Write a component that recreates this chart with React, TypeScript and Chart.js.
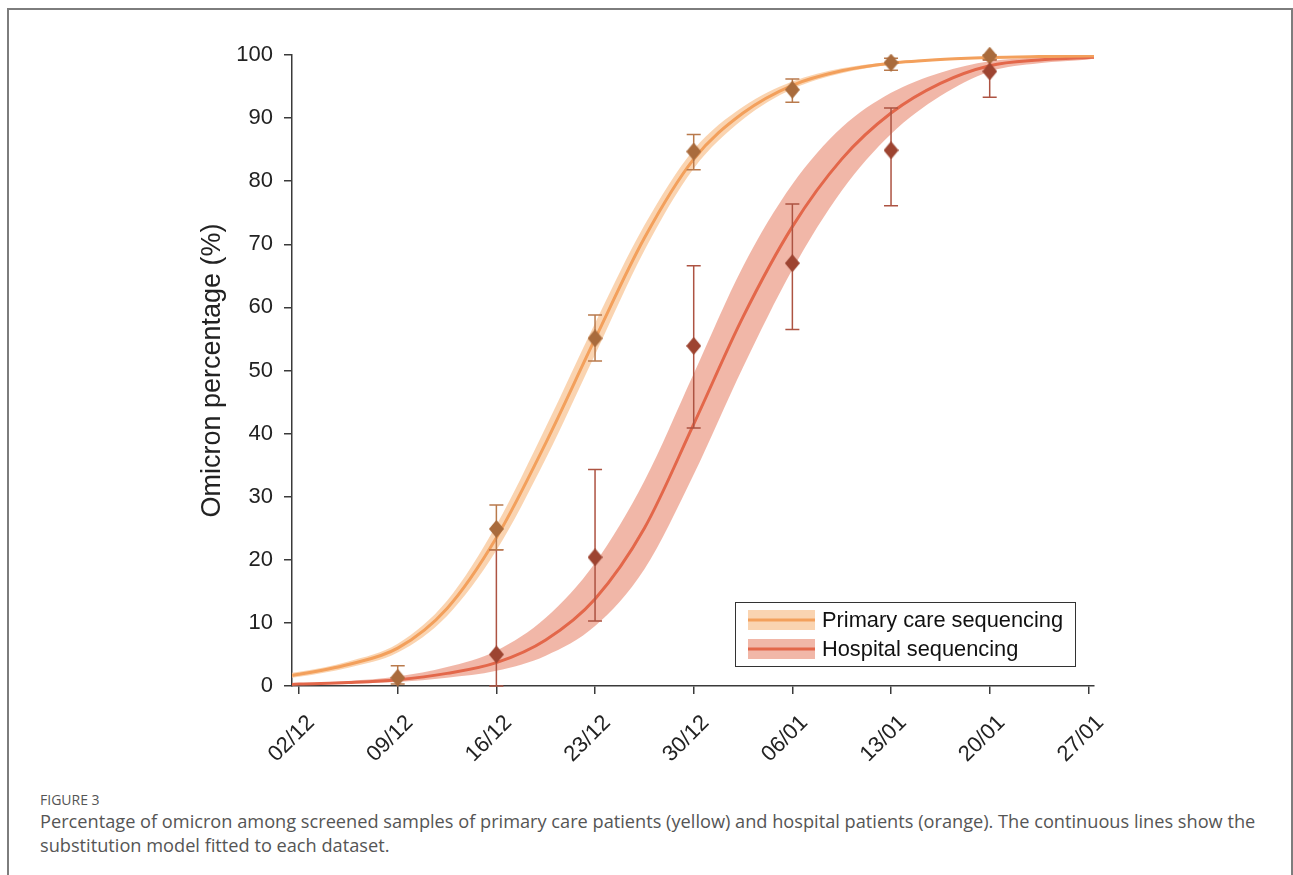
import React, { useEffect, useRef } from 'react';
import { Chart, registerables } from 'chart.js';

Chart.register(...registerables);

// ---- data ----
const tickDays = [0, 7, 14, 21, 28, 35, 42, 49, 56];
const tickLabels = ['02/12', '09/12', '16/12', '23/12', '30/12', '06/01', '13/01', '20/01', '27/01'];

const primaryDays = [7, 14, 21, 28, 35, 42, 49];
const primaryValues = [1.3, 24.9, 55.1, 84.7, 94.5, 98.8, 99.9];
const primaryLow = [0.3, 21.6, 51.5, 81.8, 92.5, 97.6, 99.3];
const primaryHigh = [3.2, 28.7, 58.8, 87.4, 96.2, 99.5, 100.0];

const hospitalDays = [14, 21, 28, 35, 42, 49];
const hospitalValues = [5.0, 20.4, 53.9, 67.0, 84.9, 97.4];
const hospitalLow = [0.0, 10.3, 40.9, 56.5, 76.1, 93.3];
const hospitalHigh = [21.6, 34.3, 66.6, 76.4, 91.6, 99.2];

const curveDays = [-0.5, 0, 3.5, 7, 10.5, 14, 17.5, 21, 24.5, 28, 31.5, 35, 38.5, 42, 45.5, 49, 52.5, 56, 56.4];
const primaryFit = [1.7, 1.85, 3.4, 6.0, 12.3, 23.5, 38.5, 55.0, 71.0, 83.5, 90.8, 95.2, 97.5, 98.7, 99.3, 99.6, 99.75, 99.85, 99.85];
const primaryFitUpper = [2.1, 2.25, 3.9, 6.7, 13.5, 25.5, 41.0, 57.5, 73.0, 85.0, 91.8, 95.8, 97.9, 98.9, 99.45, 99.7, 99.82, 99.9, 99.9];
const primaryFitLower = [1.3, 1.45, 2.9, 5.3, 11.1, 21.5, 36.0, 52.5, 69.0, 82.0, 89.8, 94.6, 97.1, 98.5, 99.15, 99.5, 99.68, 99.8, 99.8];
const hospitalFit = [0.25, 0.3, 0.55, 1.0, 2.0, 3.7, 7.3, 13.8, 25.0, 41.5, 58.5, 72.8, 83.5, 90.8, 95.5, 98.3, 99.2, 99.6, 99.65];
const hospitalFitUpper = [0.35, 0.42, 0.8, 1.5, 3.0, 5.6, 10.8, 19.5, 32.5, 49.5, 66.5, 79.5, 88.5, 94.0, 97.2, 99.0, 99.6, 99.8, 99.82];
const hospitalFitLower = [0.17, 0.2, 0.38, 0.65, 1.3, 2.4, 4.8, 9.5, 18.5, 33.5, 50.5, 66.0, 78.5, 87.5, 93.5, 97.4, 98.7, 99.3, 99.4];

const legendLabels = ['Primary care sequencing', 'Hospital sequencing'];

// ---- styles ----
const FONT = "'Liberation Sans', Arial, sans-serif";
const AXIS = '#3a3a3a';
const PRIMARY_LINE = '#F3A05C';
const PRIMARY_BAND = 'rgba(249, 205, 163, 0.85)';
const PRIMARY_MARK = '#A96B3C';
const PRIMARY_ERR = '#B97A4C';
const HOSP_LINE = '#E3674A';
const HOSP_BAND = 'rgba(238, 165, 146, 0.8)';
const HOSP_MARK = '#9D4431';
const HOSP_ERR = '#AD5342';

function makeDiamond(color: string, w: number, h: number) {
  const c = document.createElement('canvas');
  c.width = w;
  c.height = h;
  const g = c.getContext('2d')!;
  g.fillStyle = color;
  g.beginPath();
  g.moveTo(w / 2, 0);
  g.lineTo(w, h / 2);
  g.lineTo(w / 2, h);
  g.lineTo(0, h / 2);
  g.closePath();
  g.fill();
  return c;
}

const pts = (xs: number[], ys: number[]) => xs.map((x, i) => ({ x, y: ys[i] }));

const errorBarPlugin = {
  id: 'errorBars',
  beforeDatasetDraw(chart: any, args: any) {
    const ds = chart.data.datasets[args.index];
    if (!ds.drawAllErrorBars) return;
    const xs = chart.scales.x;
    const ys = chart.scales.y;
    const ctx = chart.ctx;
    ctx.save();
    chart.data.datasets.forEach((d: any) => {
      if (!d.errLow) return;
      ctx.strokeStyle = d.errColor;
      ctx.lineWidth = 1.5;
      d.data.forEach((p: any, i: number) => {
        const x = xs.getPixelForValue(p.x);
        const y1 = ys.getPixelForValue(d.errLow[i]);
        const y2 = ys.getPixelForValue(d.errHigh[i]);
        ctx.beginPath();
        ctx.moveTo(x, y1);
        ctx.lineTo(x, y2);
        ctx.moveTo(x - 7, y1);
        ctx.lineTo(x + 7, y1);
        ctx.moveTo(x - 7, y2);
        ctx.lineTo(x + 7, y2);
        ctx.stroke();
      });
    });
    ctx.restore();
  },
};

const legendPlugin = {
  id: 'bandLegend',
  afterDraw(chart: any) {
    const { ctx, chartArea } = chart;
    const w = 340;
    const h = 64;
    const right = chartArea.right - 19;
    const bottom = chartArea.bottom - 20;
    const left = right - w;
    const top = bottom - h;
    ctx.save();
    ctx.fillStyle = '#ffffff';
    ctx.fillRect(left, top, w, h);
    ctx.strokeStyle = '#333';
    ctx.lineWidth = 1;
    ctx.strokeRect(left + 0.5, top + 0.5, w, h);
    const items = [
      { band: PRIMARY_BAND, line: PRIMARY_LINE },
      { band: HOSP_BAND, line: HOSP_LINE },
    ];
    items.forEach((it, i) => {
      const cy = top + 18 + i * 29;
      ctx.fillStyle = it.band;
      ctx.fillRect(left + 13, cy - 10, 67, 20);
      ctx.strokeStyle = it.line;
      ctx.lineWidth = 3;
      ctx.beginPath();
      ctx.moveTo(left + 13, cy);
      ctx.lineTo(left + 80, cy);
      ctx.stroke();
      ctx.fillStyle = '#111';
      ctx.font = `21.8px ${FONT}`;
      ctx.textAlign = 'left';
      ctx.textBaseline = 'middle';
      ctx.fillText(legendLabels[i], left + 87, cy + 1);
    });
    ctx.restore();
  },
};

export default function App() {
  const ref = useRef<HTMLCanvasElement | null>(null);

  useEffect(() => {
    if (!ref.current) return;
    const primaryDiamond = makeDiamond(PRIMARY_MARK, 15, 18);
    const hospDiamond = makeDiamond(HOSP_MARK, 15, 18);

    const lineCommon = {
      pointRadius: 0,
      cubicInterpolationMode: 'monotone',
      borderCapStyle: 'butt',
    };

    const chart = new Chart(ref.current, {
      type: 'line',
      data: {
        datasets: [
          {
            label: 'Hospital data',
            data: pts(hospitalDays, hospitalValues),
            showLine: false,
            pointStyle: hospDiamond,
            pointRadius: 9,
            order: 0,
            clip: false,
            errLow: hospitalLow,
            errHigh: hospitalHigh,
            errColor: HOSP_ERR,
          } as any,
          {
            label: 'Primary data',
            data: pts(primaryDays, primaryValues),
            showLine: false,
            pointStyle: primaryDiamond,
            pointRadius: 9,
            order: 0,
            clip: false,
            errLow: primaryLow,
            errHigh: primaryHigh,
            errColor: PRIMARY_ERR,
            drawAllErrorBars: true,
          } as any,
          {
            label: 'Primary fit',
            data: pts(curveDays, primaryFit),
            borderColor: PRIMARY_LINE,
            borderWidth: 3,
            fill: false,
            order: 1,
            ...lineCommon,
          } as any,
          {
            label: 'Hospital fit',
            data: pts(curveDays, hospitalFit),
            borderColor: HOSP_LINE,
            borderWidth: 3,
            fill: false,
            order: 1,
            ...lineCommon,
          } as any,
          {
            label: 'Primary upper',
            data: pts(curveDays, primaryFitUpper),
            borderWidth: 0,
            borderColor: 'rgba(0,0,0,0)',
            backgroundColor: PRIMARY_BAND,
            fill: 5,
            order: 2,
            ...lineCommon,
          } as any,
          {
            label: 'Primary lower',
            data: pts(curveDays, primaryFitLower),
            borderWidth: 0,
            borderColor: 'rgba(0,0,0,0)',
            fill: false,
            order: 2,
            ...lineCommon,
          } as any,
          {
            label: 'Hospital upper',
            data: pts(curveDays, hospitalFitUpper),
            borderWidth: 0,
            borderColor: 'rgba(0,0,0,0)',
            backgroundColor: HOSP_BAND,
            fill: 7,
            order: 3,
            ...lineCommon,
          } as any,
          {
            label: 'Hospital lower',
            data: pts(curveDays, hospitalFitLower),
            borderWidth: 0,
            borderColor: 'rgba(0,0,0,0)',
            fill: false,
            order: 3,
            ...lineCommon,
          } as any,
        ],
      },
      options: {
        animation: false,
        responsive: false,
        events: [],
        layout: { padding: { left: 0, top: 55, right: 199, bottom: 0 } },
        plugins: {
          legend: { display: false },
          tooltip: { enabled: false },
          title: { display: false },
        },
        scales: {
          x: {
            type: 'linear',
            min: -0.5,
            max: 56.4,
            afterBuildTicks: (s: any) => {
              s.ticks = tickDays.map((v) => ({ value: v }));
            },
            afterFit: (s: any) => {
              s.height = 94;
            },
            ticks: {
              autoSkip: false,
              minRotation: 45,
              maxRotation: 45,
              padding: 16,
              labelOffset: 12,
              color: '#222',
              font: { family: FONT, size: 22 },
              callback: (v: any) => {
                const i = tickDays.indexOf(Number(v));
                return i >= 0 ? tickLabels[i] : '';
              },
            },
            grid: {
              display: true,
              drawOnChartArea: false,
              drawTicks: true,
              tickLength: 8,
              color: AXIS,
              lineWidth: 1.5,
            },
            border: { display: true, color: AXIS, width: 1.5 },
          },
          y: {
            type: 'linear',
            min: 0,
            max: 100,
            afterFit: (s: any) => {
              s.width = 292;
            },
            ticks: {
              stepSize: 10,
              padding: 11,
              color: '#222',
              font: { family: FONT, size: 22 },
            },
            title: {
              display: true,
              text: 'Omicron percentage (%)',
              color: '#222',
              font: { family: FONT, size: 27 },
              padding: { top: 196, bottom: 0 },
            },
            grid: {
              display: true,
              drawOnChartArea: false,
              drawTicks: true,
              tickLength: 8,
              color: AXIS,
              lineWidth: 1.5,
            },
            border: { display: true, color: AXIS, width: 1.5 },
          },
        },
      } as any,
      plugins: [errorBarPlugin, legendPlugin],
    });
    return () => chart.destroy();
  }, []);

  return (
    <div
      style={{
        position: 'absolute',
        left: 0,
        top: 0,
        width: 1293,
        height: 875,
        overflow: 'hidden',
        background: '#fff',
      }}
    >
      <div
        style={{
          position: 'absolute',
          left: 7,
          top: 8,
          width: 1282,
          height: 900,
          borderTop: '2px solid #7d7d7d',
          borderLeft: '2px solid #7d7d7d',
          borderRight: '2px solid #7d7d7d',
        }}
      />
      <canvas ref={ref} width={1293} height={780} style={{ position: 'absolute', left: 0, top: 0 }} />
      <div
        style={{
          position: 'absolute',
          left: 40,
          top: 790,
          fontFamily: "'Open Sans', sans-serif",
          fontSize: 14,
          color: '#555',
          whiteSpace: 'nowrap',
        }}
      >
        FIGURE 3
      </div>
      <div
        style={{
          position: 'absolute',
          left: 40,
          top: 809,
          fontFamily: "'Open Sans', sans-serif",
          fontSize: 18.2,
          lineHeight: '24px',
          color: '#555',
          whiteSpace: 'nowrap',
        }}
      >
        Percentage of omicron among screened samples of primary care patients (yellow) and hospital patients (orange). The continuous lines show the
        <br />
        substitution model fitted to each dataset.
      </div>
    </div>
  );
}
